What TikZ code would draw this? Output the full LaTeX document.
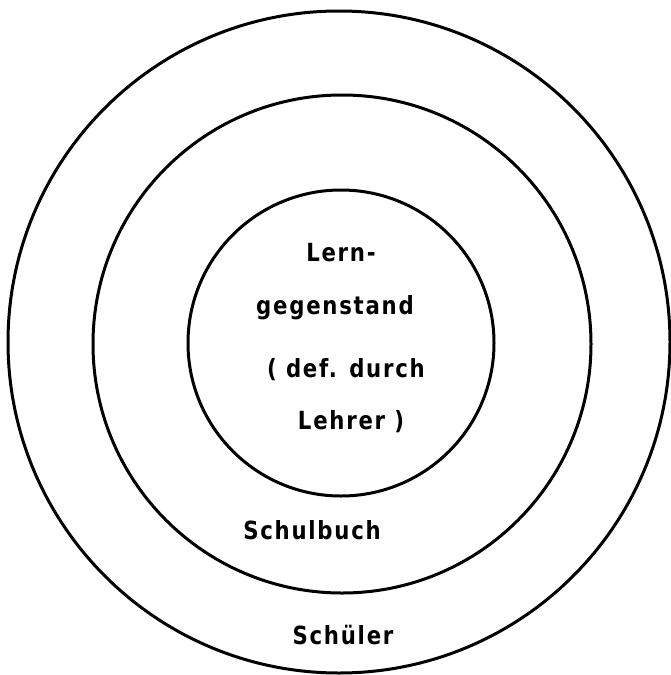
\documentclass[tikz,border=0pt]{standalone}
\usepackage{fontspec}
\newfontfamily\labfont[LetterSpace=7,FakeStretch=0.85]{DejaVu Sans}
\begin{document}
\begin{tikzpicture}[x=1pt,y=-1pt,
  ring/.style={draw=black,line width=3pt},
  lab/.style={font=\labfont\bfseries\fontsize{25}{28}\selectfont,inner sep=0pt,anchor=center}]
\useasboundingbox (0,0) rectangle (671,675);
\fill[white] (0,0) rectangle (671,675);
\draw[ring] (339,342) circle[radius=331];
\draw[ring] (342,344) circle[radius=249];
\draw[ring] (341,343) circle[radius=153];
\node[lab] (t1) at (341,253) {Lern-};
\node[lab] (t2) at (335,308) {gegenstand};
\node[lab] (t3) at (346,370) {( def. durch};
\node[lab] (t4) at (351,422) {Lehrer )};
\node[lab] (t5) at (312,530) {Schulbuch};
\node[lab] (t6) at (343,635) {Schüler};
\end{tikzpicture}
\end{document}
